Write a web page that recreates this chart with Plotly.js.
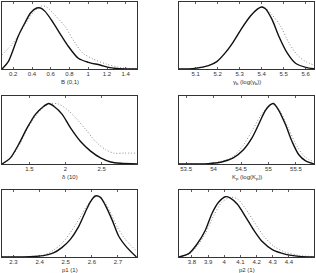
<!DOCTYPE html>
<html>
<head>
<meta charset="utf-8">
<script src="https://cdn.plot.ly/plotly-3.0.1.min.js"></script>
<style>html,body{margin:0;padding:0;background:#fff;}#chart{width:316px;height:273px;}</style>
</head>
<body>
<div id="chart"></div>
<script>
// Panel 1: B (0,1)
const bX1 = [0.08,0.147,0.2,0.253,0.325,0.386,0.45,0.49,0.539,0.627,0.716,0.787,0.894,1.0,1.125,1.23,1.33,1.52];
const bY1 = [0,0.11,0.29,0.49,0.69,0.84,0.91,0.91,0.86,0.69,0.49,0.34,0.16,0.10,0.06,0.02,0.005,0];
const dX1 = [0.08,0.2,0.325,0.41,0.5,0.55,0.64,0.75,0.85,0.94,1.05,1.19,1.33,1.52];
const dY1 = [0.21,0.39,0.66,0.84,0.94,0.93,0.81,0.64,0.41,0.24,0.15,0.075,0.025,0];
// Panel 2: gamma_b
const bX2 = [5.024,5.097,5.158,5.196,5.234,5.272,5.31,5.349,5.379,5.399,5.417,5.447,5.478,5.516,5.554,5.6,5.638];
const bY2 = [0,0.01,0.05,0.11,0.24,0.41,0.61,0.79,0.89,0.925,0.9,0.74,0.49,0.24,0.085,0.025,0.005];
const dX2 = [5.024,5.097,5.158,5.196,5.234,5.272,5.31,5.349,5.379,5.405,5.417,5.447,5.486,5.524,5.562,5.6,5.638];
const dY2 = [0,0.01,0.05,0.11,0.24,0.41,0.61,0.79,0.89,0.93,0.91,0.81,0.64,0.39,0.21,0.11,0.06];
// Panel 3: delta (10)
const bX3 = [1.12,1.236,1.351,1.468,1.583,1.699,1.768,1.838,1.954,2.069,2.208,2.347,2.486,2.625,2.764,2.99];
const bY3 = [0,0.09,0.29,0.53,0.73,0.85,0.89,0.85,0.73,0.53,0.33,0.19,0.09,0.03,0.01,0];
const dX3 = [1.12,1.236,1.351,1.468,1.583,1.699,1.792,1.907,2.024,2.139,2.278,2.417,2.556,2.67,2.81,2.99];
const dY3 = [0,0.08,0.26,0.51,0.70,0.84,0.89,0.88,0.80,0.68,0.51,0.33,0.21,0.16,0.16,0.16];
// Panel 4: K_p
const bX4 = [53.37,53.903,54.147,54.36,54.544,54.697,54.82,54.94,55.03,55.09,55.18,55.31,55.43,55.55,55.67,55.83];
const bY4 = [0,0.005,0.03,0.09,0.21,0.38,0.58,0.78,0.87,0.89,0.80,0.58,0.33,0.14,0.05,0];
const dX4 = [53.37,53.903,54.147,54.36,54.544,54.697,54.85,55.0,55.09,55.21,55.36,55.52,55.67,55.83];
const dY4 = [0,0.008,0.04,0.11,0.28,0.48,0.70,0.85,0.88,0.78,0.53,0.26,0.10,0.03];
// Panel 5: p1 (1)
const bX5 = [2.256,2.363,2.415,2.453,2.485,2.517,2.549,2.575,2.594,2.613,2.633,2.652,2.678,2.703,2.735,2.771];
const bY5 = [0,0.005,0.02,0.06,0.14,0.26,0.45,0.67,0.82,0.91,0.89,0.77,0.55,0.31,0.14,0];
const dX5 = [2.256,2.363,2.415,2.453,2.492,2.524,2.556,2.582,2.607,2.626,2.645,2.671,2.697,2.729,2.771];
const dY5 = [0,0.008,0.03,0.10,0.23,0.40,0.60,0.77,0.88,0.90,0.84,0.67,0.45,0.26,0.09];
// Panel 6: p2 (1)
const bX6 = [3.72,3.78,3.831,3.883,3.924,3.966,4.007,4.038,4.08,4.132,4.183,4.235,4.297,4.38,4.463,4.555];
const bY6 = [0,0.05,0.19,0.40,0.65,0.82,0.90,0.88,0.79,0.60,0.40,0.23,0.11,0.04,0.01,0];
const dX6 = [3.72,3.78,3.831,3.883,3.935,3.986,4.038,4.08,4.132,4.183,4.245,4.307,4.38,4.463,4.555];
const dY6 = [0,0.04,0.16,0.35,0.62,0.82,0.89,0.87,0.72,0.53,0.31,0.16,0.07,0.025,0.005];

const xRanges = [[0.08,1.52],[5.024,5.638],[1.12,2.99],[53.37,55.83],[2.256,2.773],[3.72,4.555]];
const xTickVals = [[0.2,0.4,0.6,0.8,1,1.2,1.4],[5.1,5.2,5.3,5.4,5.5,5.6],[1.5,2,2.5],[53.5,54,54.5,55,55.5],[2.3,2.4,2.5,2.6,2.7],[3.8,3.9,4,4.1,4.2,4.3,4.4]];
const xTitles = ['B (0,1)','γ<sub>b</sub> (log(γ<sub>b</sub>))','δ (10)','K<sub>p</sub> (log(K<sub>p</sub>))','p1 (1)','p2 (1)'];

const solid = [[bX1,bY1],[bX2,bY2],[bX3,bY3],[bX4,bY4],[bX5,bY5],[bX6,bY6]];
const dotted = [[dX1,dY1],[dX2,dY2],[dX3,dY3],[dX4,dY4],[dX5,dY5],[dX6,dY6]];

const W = 316, H = 273;
const colPx = [[2,137],[179,314]];
const rowPx = [[2,69],[96,164],[190,257]];

const traces = [];
const annotations = [];
const layout = {
  width: W, height: H,
  margin: {l:0, r:0, t:0, b:0},
  paper_bgcolor: '#fff', plot_bgcolor: '#fff',
  showlegend: false,
  font: {family: 'Liberation Sans, Arial, sans-serif', size: 6, color: '#333'}
};

for (let i = 0; i < 6; i++) {
  const r = Math.floor(i/2), c = i % 2;
  const n = i + 1;
  const xa = n === 1 ? 'x' : 'x' + n;
  const ya = n === 1 ? 'y' : 'y' + n;
  traces.push({x: dotted[i][0], y: dotted[i][1], xaxis: xa, yaxis: ya, mode: 'lines',
    line: {color: '#8a8a8a', width: 1, dash: '1px,2px', shape: 'spline', smoothing: 0.8}, hoverinfo: 'skip'});
  traces.push({x: solid[i][0], y: solid[i][1], xaxis: xa, yaxis: ya, mode: 'lines',
    line: {color: '#111', width: 1.4, shape: 'spline', smoothing: 0.8}, hoverinfo: 'skip'});
  const xk = n === 1 ? 'xaxis' : 'xaxis' + n;
  const yk = n === 1 ? 'yaxis' : 'yaxis' + n;
  layout[xk] = {
    domain: [colPx[c][0]/W, colPx[c][1]/W],
    anchor: ya, range: xRanges[i], tickvals: xTickVals[i],
    ticks: 'inside', ticklen: 2, tickcolor: '#333', tickwidth: 0.8,
    showline: true, mirror: 'ticks', linecolor: '#333', linewidth: 1,
    showgrid: false, zeroline: false, automargin: false,
    ticklabelstandoff: -1,
    tickfont: {size: 6, color: '#333'}
  };
  layout[yk] = {
    domain: [1 - rowPx[r][1]/H, 1 - rowPx[r][0]/H],
    anchor: xa, range: [0, 1], showticklabels: false, ticks: '',
    showline: true, mirror: true, linecolor: '#333', linewidth: 1,
    showgrid: false, zeroline: false, automargin: false
  };
  annotations.push({
    xref: 'paper', yref: 'paper', showarrow: false,
    x: (colPx[c][0] + colPx[c][1]) / 2 / W,
    y: 1 - (rowPx[r][1] + 13) / H,
    xanchor: 'center', yanchor: 'middle',
    text: xTitles[i], font: {size: 6, color: '#333'}
  });
}
layout.annotations = annotations;

Plotly.newPlot('chart', traces, layout, {staticPlot: true, displayModeBar: false});
</script>
</body>
</html>
